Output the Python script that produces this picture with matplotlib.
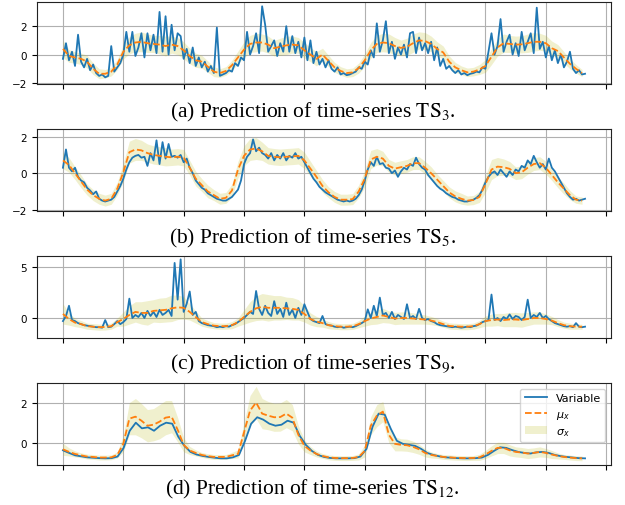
import numpy as np
import matplotlib
matplotlib.use("Agg")
import matplotlib.pyplot as plt

# ---------------- data ----------------
ts3_var = [-0.3, 0.8, -0.4, 0.2, -0.8, 1.4, -0.5, -0.9, -0.3, -1.1,
           -0.7, -1.3, -1.5, -1.4, -1.6, -1.5, 0.6, -1.2, -0.9, -0.6,
           0.0, 1.6, 0.2, 1.6, -0.1, 0.5, 1.5, -0.2, 1.5, 0.3,
           1.4, 0.1, 3.0, 0.2, 2.7, 0.0, 2.1, 0.3, 1.5, 1.3,
           -0.3, 0.4, -0.6, 0.5, -0.8, -0.2, -0.9, -0.5, -1.2, -0.8,
           -1.3, 1.9, -1.5, -1.4, -1.3, -1.1, -1.2, -0.6, -0.8, -0.2,
           -0.4, 1.6, 0.0, 0.6, 1.5, 0.1, 3.4, 2.1, 0.2, 0.6,
           1.0, -0.1, 0.8, 0.2, 2.0, 0.2, 1.3, 0.1, 0.9, -0.2,
           1.2, -0.4, 1.0, -0.6, 0.2, -0.7, -0.3, -0.9, -0.4, -1.0,
           -1.2, -0.9, -1.4, -1.3, -1.45, -1.4, -1.3, -1.2, -0.9, -1.0,
           -0.5, -0.7, 0.3, -0.2, 2.2, 0.2, 1.0, 2.35, 0.1, 0.9,
           -0.3, 0.5, 0.0, 0.7, -0.2, 1.5, 1.6, 0.1, 1.2, 0.3,
           0.8, 0.1, 0.9, -0.4, 0.5, -0.8, -0.3, -1.0, -0.8, -1.1,
           -1.3, -1.1, -1.4, -1.3, -1.45, -1.35, -1.3, -1.2, -1.25, -0.9,
           -1.0, 0.2, 1.5, 0.0, 0.6, 2.5, 0.2, 0.9, 1.4, 0.0,
           0.8, -0.1, 1.6, 0.3, 0.9, 1.5, 0.1, 3.3, 0.4, 0.9,
           -0.2, 0.6, -0.4, 0.3, -0.6, 0.0, -0.9, -0.5, 0.2, -1.0,
           -1.3, -1.1, -1.4, -1.35]
ts3_mu = [0.4, -0.1, -0.2, -0.3, -0.5, -1.0, -1.35, -1.35, -1.2, -0.7,
          0.2, 0.65, 0.85, 0.9, 0.8, 0.75, 0.7, 0.6, 0.7, 0.6,
          0.3, -0.1, -0.4, -0.5, -0.85, -1.2, -1.3, -1.15, -0.75, -0.2,
          0.35, 0.75, 0.85, 0.85, 0.7, 0.45, 0.55, 0.65, 0.7, 0.65,
          0.3, 0.0, -0.3, 0.0, -0.45, -0.9, -1.15, -1.3, -1.25, -0.95,
          -0.4, 0.3, 0.75, 0.85, 0.8, 0.6, 0.47, 0.55, 0.8, 1.0,
          0.95, 0.75, 0.4, 0.15, -0.5, -0.9, -1.1, -1.25, -1.2, -1.05,
          -0.8, -0.15, 0.5, 0.8, 0.75, 0.7, 0.72, 0.8, 0.9, 0.9,
          0.8, 0.45, 0.25, -0.2, -0.65, -1.0, -1.3]
ts3_sigma = [0.6, 0.45, 0.4, 0.4, 0.45, 0.4, 0.35, 0.3, 0.3, 0.35,
             0.5, 0.6, 0.65, 0.7, 0.65, 0.6, 0.65, 0.7, 0.6, 0.6,
             0.6, 0.55, 0.5, 0.45, 0.4, 0.35, 0.3, 0.3, 0.35, 0.45,
             0.55, 0.6, 0.65, 0.6, 0.6, 0.55, 0.6, 0.65, 0.6, 0.55,
             0.55, 0.5, 0.5, 0.45, 0.4, 0.35, 0.3, 0.3, 0.3, 0.35,
             0.45, 0.55, 0.6, 0.65, 0.65, 0.6, 0.55, 0.6, 0.65, 0.6,
             0.6, 0.55, 0.5, 0.45, 0.4, 0.35, 0.3, 0.3, 0.3, 0.35,
             0.45, 0.55, 0.6, 0.65, 0.6, 0.6, 0.6, 0.65, 0.65, 0.6,
             0.55, 0.5, 0.45, 0.4, 0.35, 0.3, 0.25]

ts5_var = [0.3, 1.3, 0.3, 0.1, 0.3, -0.2, -0.4, -0.5, -0.8, -0.95,
           -1.15, -1.0, -1.4, -1.5, -1.55, -1.5, -1.45, -1.3, -1.0, -0.7,
           -0.3, 0.2, 0.6, 0.85, 0.95, 1.0, 0.85, 0.9, 0.4, 1.1,
           0.7, 1.8, 0.5, 1.7, 0.8, 1.6, 0.9, 0.95, 0.85, 1.0,
           0.6, 0.8, 0.3, 0.0, -0.4, -0.6, -0.8, -0.9, -1.1, -1.2,
           -1.3, -1.4, -1.45, -1.5, -1.5, -1.4, -1.3, -1.1, -0.9, -0.4,
           0.5, 0.9, 1.1, 1.85, 1.2, 1.4, 1.1, 1.0, 0.8, 1.1,
           0.7, 1.0, 0.8, 1.1, 0.7, 0.95, 0.85, 1.1, 0.8, 0.9,
           0.6, 0.3, 0.0, -0.3, -0.5, -0.75, -0.9, -1.05, -1.15, -1.25,
           -1.35, -1.45, -1.5, -1.55, -1.5, -1.55, -1.5, -1.4, -1.2, -0.9,
           -0.4, 0.2, 0.6, 0.4, 0.9, 0.5, 0.55, 0.3, 0.25, 0.0,
           0.15, -0.2, 0.1, 0.3, 0.2, 0.5, 0.4, 0.85, 0.5, 0.3,
           0.2, -0.1, -0.3, -0.5, -0.7, -0.85, -0.95, -1.1, -1.2, -1.3,
           -1.35, -1.45, -1.5, -1.55, -1.55, -1.5, -1.45, -1.35, -1.2, -0.9,
           -0.5, -0.2, 0.0, 0.1, -0.1, 0.2, 0.0, -0.2, 0.1, -0.1,
           0.2, 0.1, 0.4, 0.3, 0.7, 0.5, 0.95, 0.6, 0.3, 0.5,
           0.2, 0.8, 0.3, 0.1, -0.2, -0.5, -0.8, -1.1, -1.3, -1.45,
           -1.4, -1.5, -1.45, -1.4]
ts5_mu = [0.7, 0.45, 0.0, -0.45, -0.9, -1.2, -1.4, -1.5, -1.4, -0.85,
          0.05, 1.15, 1.3, 1.25, 1.1, 1.0, 0.95, 0.9, 0.87, 0.9,
          0.85, 0.3, -0.3, -0.65, -1.0, -1.2, -1.4, -1.35, -0.95, 0.2,
          0.95, 1.3, 1.35, 1.2, 0.95, 0.9, 0.87, 0.9, 0.92, 0.95,
          0.7, 0.25, -0.2, -0.7, -1.05, -1.3, -1.45, -1.45, -1.42, -1.0,
          -0.3, 0.75, 0.9, 0.8, 0.4, 0.25, 0.33, 0.4, 0.55, 0.55,
          0.3, 0.0, -0.35, -0.7, -1.05, -1.27, -1.4, -1.5, -1.47, -1.3,
          -0.6, 0.2, 0.36, 0.33, 0.24, 0.0, 0.05, 0.3, 0.5, 0.55,
          0.3, -0.1, -0.5, -0.85, -1.2, -1.45, -1.5]
ts5_sigma = [0.45, 0.4, 0.35, 0.35, 0.3, 0.3, 0.3, 0.3, 0.3, 0.35,
             0.5, 0.6, 0.6, 0.55, 0.5, 0.5, 0.5, 0.5, 0.45, 0.45,
             0.45, 0.4, 0.4, 0.35, 0.35, 0.3, 0.3, 0.3, 0.35, 0.45,
             0.55, 0.6, 0.6, 0.5, 0.45, 0.45, 0.45, 0.45, 0.45, 0.45,
             0.45, 0.4, 0.35, 0.35, 0.3, 0.3, 0.3, 0.3, 0.3, 0.35,
             0.45, 0.5, 0.45, 0.4, 0.35, 0.35, 0.35, 0.35, 0.35, 0.35,
             0.35, 0.35, 0.3, 0.3, 0.3, 0.3, 0.3, 0.25, 0.25, 0.3,
             0.45, 0.55, 0.5, 0.45, 0.4, 0.35, 0.35, 0.35, 0.35, 0.35,
             0.35, 0.3, 0.3, 0.3, 0.25, 0.2, 0.2]

ts9_var = [-0.3, 0.2, 1.2, -0.2, -0.3, -0.5, -0.6, -0.7, -0.75, -0.8,
           -0.85, -0.9, -0.9, -0.95, -0.2, -0.9, -0.85, -0.6, -0.3, -0.6,
           -0.4, -0.1, 1.9, 0.0, 0.3, 0.1, 0.5, 0.0, 0.7, 0.2,
           0.6, 0.1, 0.8, 0.3, 0.5, 0.8, 0.2, 5.4, 1.8, 5.75,
           0.6, 1.4, 2.6, 0.3, 0.6, -0.3, -0.5, -0.6, -0.7, -0.75,
           -0.8, -0.9, -0.85, -0.9, -0.8, -0.85, -0.7, -0.6, -0.4, -0.2,
           0.0, 0.3, 0.6, 0.4, 2.65, 0.9, 0.3, 1.2, 0.5, 0.2,
           1.65, 0.4, 0.9, 0.1, 1.5, 0.3, 0.8, 0.0, 1.0, 0.3,
           1.35, 0.6, -0.1, -0.3, -0.4, -0.5, 0.2, -0.6, -0.7, -0.75,
           -0.85, -0.9, -0.85, -0.95, -0.9, -0.85, -0.9, -0.8, -0.65, -0.5,
           -0.3, 0.85, 0.0, 1.2, 0.2, 2.0, 0.3, 0.5, 0.0, 0.6,
           -0.1, 0.3, 0.1, -0.1, 1.35, 0.0, 0.2, -0.1, 0.9, 0.0,
           -0.2, -0.1, -0.3, -0.4, -0.6, -0.7, -0.75, -0.8, -0.85, -0.9,
           -0.85, -0.9, -0.95, -0.9, -0.85, -0.9, -0.8, -0.75, -0.6, -0.4,
           -0.3, -0.2, 2.3, -0.2, 0.0, -0.3, 0.1, -0.1, 0.35, -0.1,
           0.2, 0.1, -0.2, 0.1, 1.8, 0.0, 0.3, 0.1, 0.5, 0.0,
           0.2, -0.1, -0.3, -0.5, -0.6, -0.7, -0.8, -0.85, -0.8, -0.9,
           -0.5, -0.85, -0.9, -0.85]
ts9_mu = [0.4, -0.1, -0.45, -0.6, -0.8, -0.85, -0.9, -0.88, -0.8, -0.4,
          -0.1, 0.3, 0.6, 0.5, 0.5, 0.7, 0.75, 0.8, 0.95, 1.05,
          1.0, 0.6, 0.1, -0.4, -0.6, -0.75, -0.8, -0.8, -0.7, -0.4,
          0.1, 0.6, 0.95, 1.1, 1.0, 1.0, 1.0, 0.95, 0.9, 0.8,
          0.4, -0.1, -0.35, -0.5, -0.7, -0.8, -0.85, -0.85, -0.82, -0.6,
          -0.3, -0.05, 0.1, 0.25, 0.1, -0.05, 0.0, 0.0, -0.05, -0.1,
          -0.15, -0.25, -0.4, -0.6, -0.78, -0.82, -0.85, -0.85, -0.8, -0.6,
          -0.3, -0.2, -0.15, -0.2, -0.15, -0.15, -0.2, -0.1, 0.0, 0.0,
          -0.1, -0.25, -0.5, -0.7, -0.8, -0.85, -0.85]
ts9_sigma = [1.0, 0.6, 0.4, 0.35, 0.3, 0.3, 0.3, 0.3, 0.3, 0.4,
             0.7, 0.9, 1.0, 1.1, 1.2, 1.1, 1.2, 1.2, 1.3, 1.2,
             1.1, 0.8, 0.6, 0.4, 0.35, 0.3, 0.3, 0.3, 0.35, 0.4,
             0.7, 1.0, 1.2, 1.3, 1.3, 1.2, 1.2, 1.1, 1.1, 1.0,
             0.8, 0.6, 0.5, 0.4, 0.35, 0.3, 0.3, 0.3, 0.3, 0.35,
             0.5, 0.6, 0.7, 0.7, 0.6, 0.6, 0.6, 0.6, 0.55, 0.5,
             0.45, 0.4, 0.35, 0.3, 0.3, 0.3, 0.3, 0.3, 0.3, 0.35,
             0.5, 0.6, 0.6, 0.65, 0.7, 0.7, 0.7, 0.65, 0.6, 0.6,
             0.5, 0.4, 0.35, 0.3, 0.3, 0.25, 0.25]

ts12_var = [-0.37, -0.5, -0.62, -0.67, -0.72, -0.74, -0.76, -0.77, -0.76, -0.68,
            -0.25, 0.6, 1.0, 0.72, 0.77, 0.6, 0.85, 1.0, 0.95, 0.3,
            -0.15, -0.45, -0.58, -0.65, -0.7, -0.74, -0.77, -0.77, -0.72, -0.6,
            0.1, 0.95, 1.27, 1.15, 0.95, 0.85, 0.9, 1.1, 1.0, 0.35,
            -0.1, -0.4, -0.6, -0.7, -0.75, -0.77, -0.77, -0.77, -0.76, -0.68,
            -0.3, 0.8, 1.45, 1.4, 0.7, 0.1, -0.05, -0.1, -0.15, -0.3,
            -0.5, -0.6, -0.67, -0.72, -0.74, -0.76, -0.77, -0.77, -0.76, -0.73,
            -0.6, -0.4, -0.22, -0.25, -0.36, -0.45, -0.5, -0.53, -0.47, -0.45,
            -0.5, -0.6, -0.66, -0.7, -0.73, -0.76, -0.77]
ts12_mu = [-0.32, -0.45, -0.55, -0.62, -0.68, -0.7, -0.73, -0.73, -0.72, -0.6,
           -0.05, 1.2, 1.3, 1.1, 0.85, 0.9, 1.05, 1.25, 1.3, 0.65,
           -0.1, -0.38, -0.5, -0.6, -0.66, -0.7, -0.7, -0.7, -0.62, -0.55,
           0.52, 1.6, 2.0, 1.45, 1.35, 1.27, 1.28, 1.45, 1.25, 0.4,
           -0.15, -0.38, -0.55, -0.65, -0.72, -0.75, -0.76, -0.76, -0.75, -0.7,
           -0.4, 0.85, 1.35, 1.55, 0.4, -0.05, -0.1, -0.12, -0.2, -0.32,
           -0.5, -0.6, -0.65, -0.7, -0.72, -0.74, -0.75, -0.76, -0.75, -0.72,
           -0.58, -0.4, -0.25, -0.25, -0.37, -0.45, -0.48, -0.53, -0.5, -0.45,
           -0.5, -0.58, -0.65, -0.7, -0.73, -0.76, -0.77]
ts12_sigma = [0.3, 0.2, 0.15, 0.12, 0.12, 0.12, 0.12, 0.12, 0.12, 0.15,
              0.4, 0.8, 0.9, 0.85, 0.8, 0.8, 0.85, 0.85, 0.8, 0.6,
              0.35, 0.2, 0.15, 0.12, 0.12, 0.12, 0.12, 0.12, 0.15, 0.2,
              0.5, 0.75, 0.8, 0.75, 0.7, 0.7, 0.7, 0.7, 0.65, 0.45,
              0.3, 0.2, 0.15, 0.12, 0.12, 0.12, 0.12, 0.12, 0.12, 0.15,
              0.3, 0.45, 0.55, 0.5, 0.4, 0.35, 0.3, 0.3, 0.28, 0.25,
              0.2, 0.15, 0.12, 0.12, 0.12, 0.12, 0.12, 0.12, 0.12, 0.15,
              0.2, 0.25, 0.28, 0.28, 0.28, 0.25, 0.25, 0.25, 0.25, 0.25,
              0.22, 0.2, 0.15, 0.12, 0.12, 0.12, 0.12]

captions = [r"(a) Prediction of time-series $\mathrm{TS}_3$.",
            r"(b) Prediction of time-series $\mathrm{TS}_5$.",
            r"(c) Prediction of time-series $\mathrm{TS}_9$.",
            r"(d) Prediction of time-series $\mathrm{TS}_{12}$."]
ylims = [(-2.07, 3.7), (-2.07, 2.42), (-1.96, 6.08), (-1.1, 2.97)]
yticks = [[-2, 0, 2], [-2, 0, 2], [0, 5], [0, 2]]
xtick_vals = list(range(0, 1000, 100))
legend_labels = ["Variable", r"$\mu_x$", r"$\sigma_x$"]

# ---------------- figure ----------------
W, H = 625, 506
fig = plt.figure(figsize=(W / 100, H / 100), dpi=100)

panel_tops = [3, 130, 257, 384]
caption_y = [112, 238, 364, 489]
ax_h = 82
ax_left, ax_right = 37, 611

series = [(ts3_var, ts3_mu, ts3_sigma), (ts5_var, ts5_mu, ts5_sigma),
          (ts9_var, ts9_mu, ts9_sigma), (ts12_var, ts12_mu, ts12_sigma)]

for i, (var, mu, sig) in enumerate(series):
    top = panel_tops[i]
    ax = fig.add_axes([ax_left / W, 1 - (top + ax_h) / H,
                       (ax_right - ax_left) / W, ax_h / H])
    var = np.asarray(var)
    mu = np.asarray(mu)
    sig = np.asarray(sig)
    xv = np.linspace(0, 865, len(var))
    xm = np.linspace(0, 860, len(mu))
    band = ax.fill_between(xm, mu - sig, mu + sig, color="#bcbd22", alpha=0.22,
                           lw=0, zorder=1, label=legend_labels[2])
    l1, = ax.plot(xv, var, color="#1f77b4", lw=1.3, zorder=2, label=legend_labels[0])
    l2, = ax.plot(xm, mu, color="#ff7f0e", lw=1.3, ls="--", zorder=3,
                  label=legend_labels[1])
    ax.set_xlim(-43, 908)
    ax.set_ylim(*ylims[i])
    ax.set_xticks(xtick_vals)
    ax.set_xticklabels([])
    ax.set_yticks(yticks[i])
    ax.grid(True, color="#b0b0b0", lw=0.8)
    ax.set_axisbelow(True)
    ax.tick_params(labelsize=7.5, length=3.5)
    for s in ax.spines.values():
        s.set_color("#222222")
    if i == 3:
        ax.legend(handles=[l1, l2, band], loc="upper right", fontsize=8)
    fig.text(0.5, 1 - caption_y[i] / H, captions[i], ha="center", va="center",
             fontsize=15.5, family="Liberation Serif", math_fontfamily="stix")

fig.savefig("out.png", dpi=100)
